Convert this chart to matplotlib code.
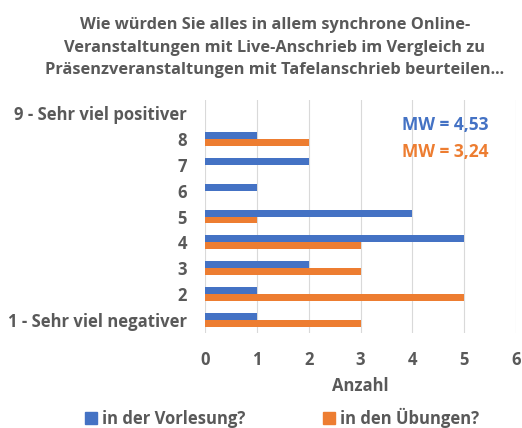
import matplotlib
matplotlib.use("Agg")
import matplotlib.pyplot as plt
from matplotlib.patches import Patch
import numpy as np

categories = ["1 - Sehr viel negativer", "2", "3", "4", "5", "6", "7", "8", "9 - Sehr viel positiver"]
vorlesung = [1, 1, 2, 5, 4, 1, 2, 1, 0]
uebungen = [3, 5, 3, 3, 1, 0, 0, 2, 0]
series_names = ["in der Vorlesung?", "in den Übungen?"]
mw_texts = ["MW = 4,53", "MW = 3,24"]
title = ("Wie würden Sie alles in allem synchrone Online-\n"
         "Veranstaltungen mit Live-Anschrieb im Vergleich zu\n"
         "Präsenzveranstaltungen mit Tafelanschrieb beurteilen...")

BLUE = "#4472C4"
ORANGE = "#ED7D31"
GRAY = "#595959"

plt.rcParams['font.family'] = ['Open Sans', 'DejaVu Sans']

fig = plt.figure(figsize=(5.22, 4.28), dpi=100)
ax = fig.add_axes([205/522, 1-333/428, 311/522, 233/428])

y = np.arange(1, len(categories) + 1)
h = 0.27
ax.barh(y + h/2, vorlesung, height=h, color=BLUE, zorder=3)
ax.barh(y - h/2, uebungen, height=h, color=ORANGE, zorder=3)

ax.set_xlim(0, 6)
ax.set_ylim(0.5, len(categories) + 0.5)
ax.set_xticks(range(0, 7))
ax.set_yticks(y)
ax.set_yticklabels(categories)
ax.grid(axis='x', color='#D9D9D9', linewidth=0.8, zorder=0)
for s in ax.spines.values():
    s.set_visible(False)
ax.tick_params(length=0, labelsize=12, labelcolor=GRAY, pad=13)
for lbl in ax.get_xticklabels() + ax.get_yticklabels():
    lbl.set_fontweight('bold')
ax.set_xlabel("Anzahl", fontsize=12, fontweight='bold', color=GRAY, labelpad=6)

ax.text(0.913, 0.893, mw_texts[0], transform=ax.transAxes, ha='right', va='center',
        color=BLUE, fontsize=12.5, fontweight='bold')
ax.text(0.913, 0.777, mw_texts[1], transform=ax.transAxes, ha='right', va='center',
        color=ORANGE, fontsize=12.5, fontweight='bold')

fig.text(275/522, 1-47.5/428, title, ha='center', va='center', fontsize=11.8,
         fontweight='bold', color=GRAY, linespacing=1.55)

handles = [Patch(color=BLUE), Patch(color=ORANGE)]
leg = fig.legend(handles, series_names, loc='center', bbox_to_anchor=(282/522, 1-418/428),
                 ncol=2, frameon=False, handlelength=0.7, handleheight=0.7,
                 columnspacing=4.7, handletextpad=0.3,
                 prop={'weight': 'bold', 'size': 12})
for t in leg.get_texts():
    t.set_color(GRAY)

fig.savefig("out.png", dpi=100)
